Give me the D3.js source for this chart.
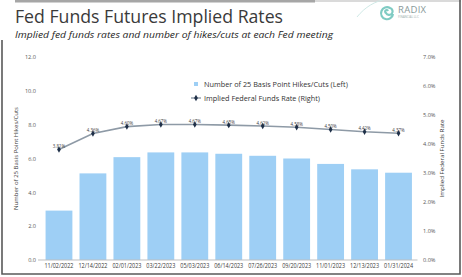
<!DOCTYPE html>
<html>
    <head>
        <meta charset="utf-8">
        <title>Fed Funds Futures Implied Rates</title>
        <style>
            html, body {margin: 0px;padding: 0px;overflow: hidden;background: #ffffff;font-family: "Open Sans", Lato, sans-serif;}
            svg {display: block;}
            .tick text {fill: #595959;}
        </style>
    </head>
    <body>
        <div id="chart"></div>
        <script src="https://cdn.jsdelivr.net/npm/d3@7"></script>
        <script type="text/javascript">
        // meeting dates, hikes/cuts (left axis), implied rate in % (right axis)
        var meetings = ["11/02/2022", "12/14/2022", "02/01/2023", "03/22/2023", "05/03/2023", "06/14/2023",
                        "07/26/2023", "09/20/2023", "11/01/2023", "12/13/2023", "01/31/2024"];
        var hikes = [2.92, 5.12, 6.08, 6.36, 6.36, 6.28, 6.16, 6.00, 5.68, 5.36, 5.16];
        var rates = [3.81, 4.36, 4.60, 4.67, 4.67, 4.65, 4.62, 4.58, 4.50, 4.42, 4.37];
        var leftTicks = [0, 2, 4, 6, 8, 10, 12];
        var rightTicks = [0, 1, 2, 3, 4, 5, 6, 7];

        var width = 462, height = 277;
        var margin = {top: 57, right: 47, bottom: 17, left: 42};

        var svg = d3.select("#chart").append("svg")
            .attr("width", width)
            .attr("height", height);

        // frame
        svg.append("rect").attr("x", 15).attr("y", 0).attr("width", 300).attr("height", 2.5).attr("fill", "#a6a6a6");
        svg.append("line").attr("x1", 315).attr("x2", 461).attr("y1", 1).attr("y2", 1)
            .attr("stroke", "#b5b5b5").attr("stroke-width", 1);
        svg.append("path")
            .attr("d", "M2,40V274H460V0")
            .attr("fill", "none").attr("stroke", "#595959").attr("stroke-width", 1.6);

        // titles
        svg.append("text").attr("x", 15).attr("y", 22.5)
            .attr("textLength", 268).attr("lengthAdjust", "spacingAndGlyphs")
            .style("font-size", "18px").style("fill", "#3a3a3a")
            .text("Fed Funds Futures Implied Rates");
        svg.append("text").attr("x", 15).attr("y", 38)
            .attr("textLength", 318).attr("lengthAdjust", "spacingAndGlyphs")
            .style("font-size", "9.6px").style("font-style", "italic").style("fill", "#262626")
            .text("Implied fed funds rates and number of hikes/cuts at each Fed meeting");

        // logo
        var logo = svg.append("g").attr("transform", "translate(387,11)");
        logo.append("path")
            .attr("d", "M-30,6 C-22,-4 -12,-10 0,-12")
            .attr("fill", "none").attr("stroke", "#cfe9e6").attr("stroke-width", 1);
        logo.append("path")
            .attr("d", "M1,0 A1.5,1.5 0 1 0 -1,2 A3.5,3.5 0 1 0 3,-3 A6,6 0 1 0 6,3")
            .attr("fill", "none").attr("stroke", "#7fcbc3").attr("stroke-width", 2.2);
        logo.append("text").attr("x", 11).attr("y", 2)
            .style("font-size", "9.5px").style("fill", "#8a9a9a").style("letter-spacing", "0.3px")
            .text("RADIX");
        logo.append("text").attr("x", 11).attr("y", 7)
            .style("font-size", "3px").style("fill", "#9aaaaa")
            .text("FINANCIAL LLC");

        var x = d3.scaleBand()
            .domain(meetings)
            .range([margin.left, width - margin.right + 0.5])
            .paddingInner(0.21)
            .paddingOuter(0.105);

        var yL = d3.scaleLinear().domain([0, 12]).range([height - margin.bottom, margin.top]);
        var yR = d3.scaleLinear().domain([0, 7]).range([height - margin.bottom, margin.top]);

        // bars
        svg.append("g").selectAll("rect")
            .data(hikes)
            .enter().append("rect")
                .attr("x", function(d, i) { return x(meetings[i]); })
                .attr("width", x.bandwidth())
                .attr("y", function(d) { return yL(d); })
                .attr("height", function(d) { return yL(0) - yL(d); })
                .attr("fill", "#9ecff5");

        // axes
        var gL = svg.append("g")
            .attr("transform", "translate(" + (margin.left - 5) + ",0)")
            .call(d3.axisLeft(yL).tickValues(leftTicks).tickSize(0).tickPadding(1).tickFormat(d3.format(".1f")));
        gL.select(".domain").remove();
        gL.selectAll("text").style("font-size", "5.6px").style("font-family", "'Open Sans', sans-serif");

        var gR = svg.append("g")
            .attr("transform", "translate(" + (width - margin.right + 5) + ",0)")
            .call(d3.axisRight(yR).tickValues(rightTicks).tickSize(0).tickPadding(3)
                .tickFormat(function(d) { return d3.format(".1f")(d) + "%"; }));
        gR.select(".domain").remove();
        gR.selectAll("text").style("font-size", "5.6px").style("font-family", "'Open Sans', sans-serif");

        var gX = svg.append("g")
            .attr("transform", "translate(0," + yL(0) + ")")
            .call(d3.axisBottom(x).tickSize(0).tickPadding(3.5));
        gX.select(".domain").remove();
        gX.selectAll("text")
            .attr("textLength", 29).attr("lengthAdjust", "spacingAndGlyphs")
            .style("font-size", "6.4px").style("font-family", "'Open Sans', sans-serif").style("fill", "#404040");
        svg.append("line")
            .attr("x1", x.range()[0] - 4).attr("x2", x.range()[1] + 2)
            .attr("y1", yL(0)).attr("y2", yL(0))
            .attr("stroke", "#bfbfbf").attr("stroke-width", 1);

        // axis titles
        svg.append("text")
            .attr("transform", "translate(18," + yL(6) + ") rotate(-90)")
            .attr("text-anchor", "middle")
            .attr("textLength", 103).attr("lengthAdjust", "spacingAndGlyphs")
            .style("font-size", "5.8px").style("fill", "#404040")
            .text("Number of 25 Basis Point Hikes/Cuts");
        svg.append("text")
            .attr("transform", "translate(444," + yL(6) + ") rotate(-90)")
            .attr("text-anchor", "middle")
            .attr("textLength", 78).attr("lengthAdjust", "spacingAndGlyphs")
            .style("font-size", "5.8px").style("fill", "#404040")
            .text("Implied Federal Funds Rate");

        // line
        var cx = function(i) { return x(meetings[i]) + x.bandwidth() / 2; };
        var line = d3.line()
            .x(function(d, i) { return cx(i); })
            .y(function(d) { return yR(d); });

        svg.append("path")
            .datum(rates)
            .attr("d", line)
            .attr("fill", "none")
            .attr("stroke", "#8e9aa6")
            .attr("stroke-width", 1.6);

        svg.append("g").selectAll("path")
            .data(rates)
            .enter().append("path")
                .attr("d", d3.symbol(d3.symbolDiamond, 12))
                .attr("transform", function(d, i) { return "translate(" + cx(i) + "," + yR(d) + ")"; })
                .attr("fill", "#1f3048");

        svg.append("g").selectAll("text")
            .data(rates)
            .enter().append("text")
                .attr("x", function(d, i) { return cx(i); })
                .attr("y", function(d) { return yR(d) - 1.5; })
                .attr("text-anchor", "middle")
                .style("font-size", "4.4px").style("fill", "#404040")
                .text(function(d) { return d3.format(".2f")(d) + "%"; });

        // legend
        var legend = svg.append("g").attr("transform", "translate(196,84)");
        legend.append("rect").attr("x", -2).attr("y", -2).attr("width", 4).attr("height", 4).attr("fill", "#9ecff5");
        legend.append("text").attr("x", 8).attr("y", 2.6)
            .style("font-size", "7.3px").style("fill", "#333333")
            .text("Number of 25 Basis Point Hikes/Cuts (Left)");
        legend.append("line").attr("x1", -5).attr("x2", 5).attr("y1", 14).attr("y2", 14)
            .attr("stroke", "#8e9aa6").attr("stroke-width", 1.4);
        legend.append("path").attr("d", d3.symbol(d3.symbolDiamond, 12))
            .attr("transform", "translate(0,14)").attr("fill", "#1f3048");
        legend.append("text").attr("x", 8).attr("y", 16.6)
            .style("font-size", "7.3px").style("fill", "#333333")
            .text("Implied Federal Funds Rate (Right)");
        </script>
    </body>
</html>
